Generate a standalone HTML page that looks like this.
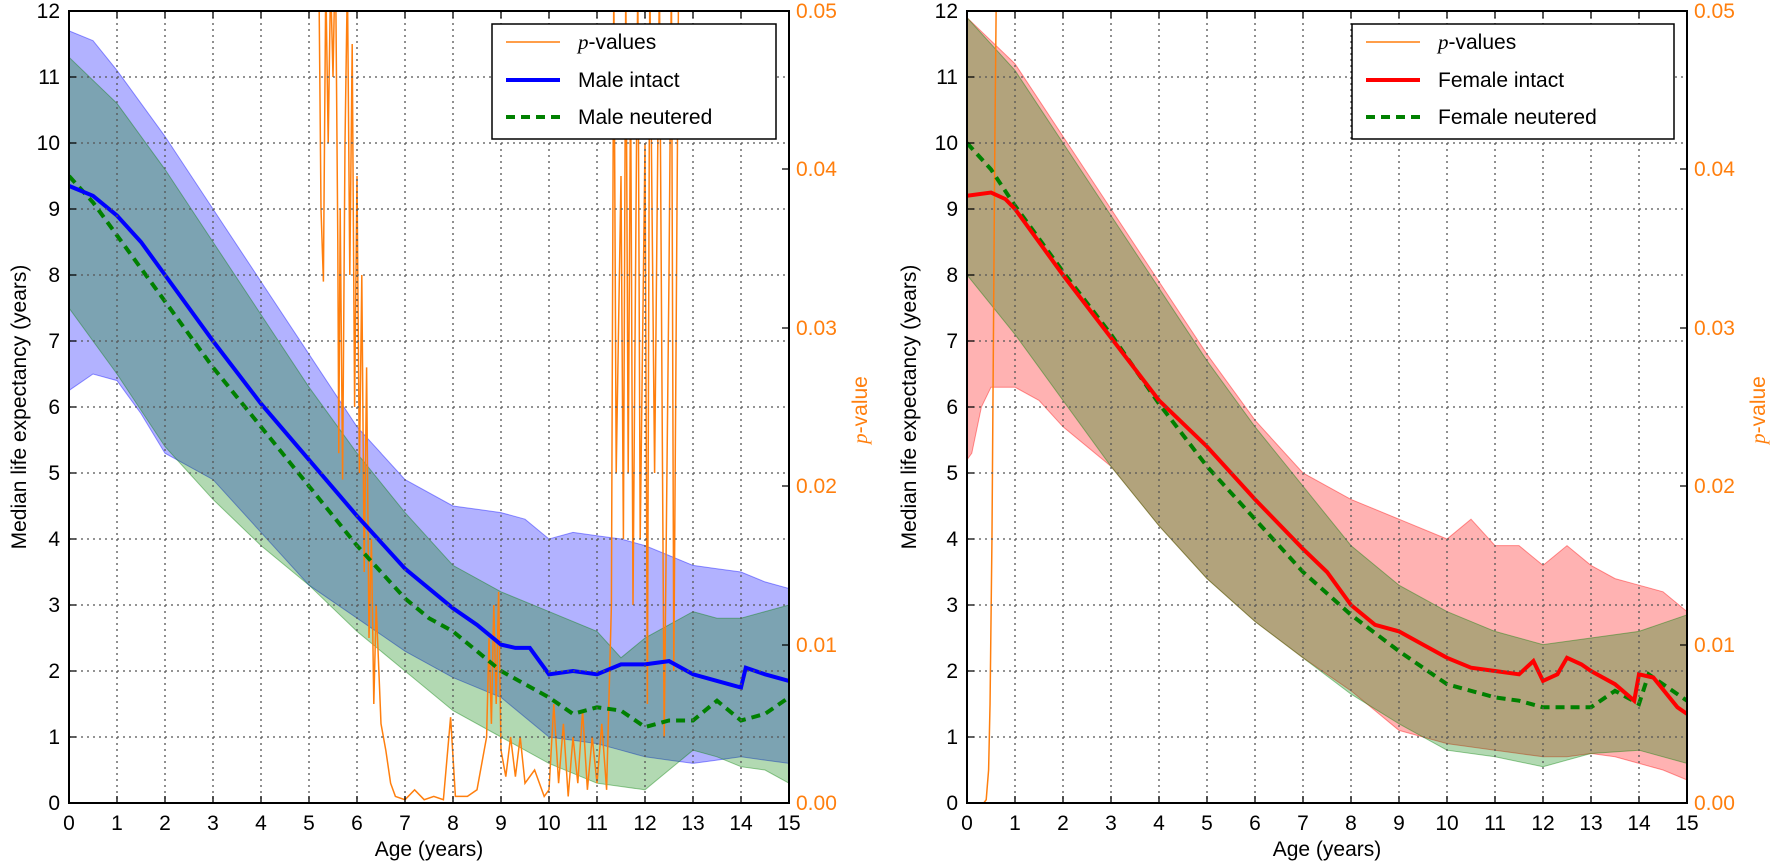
<!DOCTYPE html>
<html><head><meta charset="utf-8"><style>
body{margin:0;background:#fff;}
svg{display:block;font-family:"Liberation Sans","DejaVu Sans",sans-serif;}
.nss{vector-effect:non-scaling-stroke;}
</style></head><body>
<svg width="1770" height="867" viewBox="0 0 1770 867">
<defs>
<clipPath id="cl"><rect x="0" y="0" width="15" height="12"/></clipPath>
</defs>

<!-- ============ LEFT PLOT ============ -->
<g transform="translate(69,803) scale(48,-66)">
 <g clip-path="url(#cl)">
  <polygon class="nss" fill="blue" fill-opacity="0.3" stroke="blue" stroke-opacity="0.4" stroke-width="1" points="0,11.7 0.5,11.55 1,11.1 2,10.1 3,9 4,7.9 5,6.8 6,5.7 7,4.9 8,4.5 8.5,4.45 9,4.4 9.5,4.3 10,4.0 10.5,4.1 11,4.05 11.5,4.0 12,3.9 12.5,3.75 13,3.6 13.5,3.55 14,3.5 14.5,3.35 15,3.25 15,0.6 14.5,0.65 14,0.7 13.5,0.65 13,0.6 12.5,0.65 12,0.7 11.5,0.8 11,0.9 10.5,0.95 10,1.0 9,1.6 8,1.9 7,2.3 6,2.8 5,3.3 4,4.1 3,4.9 2,5.3 1.5,5.9 1,6.4 0.5,6.5 0,6.25"/>
  <polygon class="nss" fill="green" fill-opacity="0.3" stroke="green" stroke-opacity="0.4" stroke-width="1" points="0,11.3 1,10.6 2,9.6 3,8.5 4,7.4 5,6.3 6,5.3 7,4.4 8,3.6 9,3.2 10,2.9 11,2.6 11.5,2.2 12,2.5 12.5,2.7 13,2.9 13.5,2.8 14,2.8 14.5,2.9 15,3.0 15,0.3 14.5,0.5 14,0.55 13.5,0.7 13,0.8 12.5,0.5 12,0.2 11.5,0.25 11,0.3 10,0.6 9,1.0 8,1.4 7,2.0 6,2.6 5,3.3 4,3.9 3,4.6 2,5.4 1,6.5 0,7.5"/>
  <polyline class="nss" fill="none" stroke="#ff7f0e" stroke-width="1.5" points="5.2,13 5.25,9 5.3,7.9 5.35,12.5 5.4,10 5.45,12.5 5.5,11 5.55,13 5.6,8.5 5.62,5.3 5.65,9 5.7,4.9 5.75,10 5.8,12.5 5.85,8 5.9,11.5 5.95,6 6,9.5 6.05,5 6.1,8 6.15,3.5 6.2,6.6 6.25,2.5 6.3,4 6.35,1.5 6.4,3 6.5,1.2 6.6,0.8 6.7,0.3 6.8,0.1 7,0.05 7.2,0.2 7.4,0.05 7.6,0.1 7.8,0.05 7.95,1.3 8.05,0.1 8.3,0.1 8.5,0.2 8.7,1.0 8.75,2.5 8.8,1.2 8.85,3.0 8.9,1.5 8.95,3.2 9.0,0.8 9.1,0.4 9.2,1.0 9.3,0.4 9.4,1.0 9.5,0.3 9.7,0.5 9.9,0.1 10.0,0.2 10.1,1.5 10.2,0.3 10.3,1.2 10.4,0.1 10.5,1.0 10.6,0.3 10.7,1.4 10.8,0.2 10.9,1.0 11.0,0.3 11.1,1.2 11.2,0.2 11.3,3 11.35,12.5 11.4,5 11.5,9.5 11.55,4 11.6,12.5 11.65,5 11.7,11 11.75,3 11.85,12.5 11.9,4 12.0,10 12.05,1.5 12.1,12.5 12.2,5 12.3,12.5 12.4,1 12.5,8 12.55,12.5 12.6,2 12.7,12.5 12.8,13"/>
  <polyline class="nss" fill="none" stroke="green" stroke-width="4" stroke-dasharray="9,6" points="0,9.5 0.5,9.1 1,8.6 1.5,8.1 2,7.6 3,6.6 4,5.7 5,4.8 6,3.9 7,3.1 7.5,2.8 8,2.6 8.5,2.3 9,2.0 9.5,1.8 10,1.6 10.5,1.35 11,1.45 11.5,1.4 12,1.15 12.5,1.25 13,1.25 13.5,1.55 14,1.25 14.5,1.35 15,1.6"/>
  <polyline class="nss" fill="none" stroke="blue" stroke-width="4" points="0,9.35 0.5,9.2 1,8.9 1.5,8.5 2,8.0 3,7.0 4,6.05 5,5.2 6,4.35 7,3.55 8,2.95 8.5,2.7 9,2.4 9.3,2.35 9.6,2.35 10,1.95 10.5,2.0 11,1.95 11.5,2.1 12,2.1 12.5,2.15 13,1.95 13.5,1.85 14,1.75 14.1,2.05 14.5,1.95 15,1.85"/>
 </g>
</g>
<g stroke="#555" stroke-width="1.3" stroke-dasharray="2,4">
 <path d="M117,11V803M165,11V803M213,11V803M261,11V803M309,11V803M357,11V803M405,11V803M453,11V803M501,11V803M549,11V803M597,11V803M645,11V803M693,11V803M741,11V803"/>
 <path d="M69,737H789M69,671H789M69,605H789M69,539H789M69,473H789M69,407H789M69,341H789M69,275H789M69,209H789M69,143H789M69,77H789"/>
</g>
<rect x="69" y="11" width="720" height="792" fill="none" stroke="#000" stroke-width="2"/>
<g stroke="#000" stroke-width="1.3">
 <path d="M117,803v-7M165,803v-7M213,803v-7M261,803v-7M309,803v-7M357,803v-7M405,803v-7M453,803v-7M501,803v-7M549,803v-7M597,803v-7M645,803v-7M693,803v-7M741,803v-7"/>
 <path d="M117,11v7M165,11v7M213,11v7M261,11v7M309,11v7M357,11v7M405,11v7M453,11v7M501,11v7M549,11v7M597,11v7M645,11v7M693,11v7M741,11v7"/>
 <path d="M69,737h7M69,671h7M69,605h7M69,539h7M69,473h7M69,407h7M69,341h7M69,275h7M69,209h7M69,143h7M69,77h7"/>
 <path d="M789,645h-7M789,486h-7M789,328h-7M789,169h-7"/>
</g>
<g font-size="21" text-anchor="middle" fill="#000">
 <text x="69" y="830">0</text><text x="117" y="830">1</text><text x="165" y="830">2</text><text x="213" y="830">3</text><text x="261" y="830">4</text><text x="309" y="830">5</text><text x="357" y="830">6</text><text x="405" y="830">7</text><text x="453" y="830">8</text><text x="501" y="830">9</text><text x="549" y="830">10</text><text x="597" y="830">11</text><text x="645" y="830">12</text><text x="693" y="830">13</text><text x="741" y="830">14</text><text x="789" y="830">15</text>
 <text x="429" y="856">Age (years)</text>
</g>
<g font-size="21" text-anchor="end" fill="#000">
 <text x="60" y="810">0</text><text x="60" y="744">1</text><text x="60" y="678">2</text><text x="60" y="612">3</text><text x="60" y="546">4</text><text x="60" y="480">5</text><text x="60" y="414">6</text><text x="60" y="348">7</text><text x="60" y="282">8</text><text x="60" y="216">9</text><text x="60" y="150">10</text><text x="60" y="84">11</text><text x="60" y="18">12</text>
</g>
<text transform="translate(26,407) rotate(-90)" font-size="21" text-anchor="middle">Median life expectancy (years)</text>
<g font-size="21" fill="#ff7f0e">
 <text x="796" y="810">0.00</text><text x="796" y="652">0.01</text><text x="796" y="493">0.02</text><text x="796" y="335">0.03</text><text x="796" y="176">0.04</text><text x="796" y="18">0.05</text>
</g>
<text transform="translate(867,410) rotate(-90)" font-size="21" fill="#ff7f0e" text-anchor="middle"><tspan font-family="Liberation Serif" font-style="italic">p</tspan>-value</text>
<!-- legend left -->
<rect x="492" y="24" width="284" height="115" fill="#fff" stroke="#000" stroke-width="1.5"/>
<line x1="506" y1="42" x2="560" y2="42" stroke="#ff7f0e" stroke-width="1.5"/>
<line x1="506" y1="80" x2="560" y2="80" stroke="blue" stroke-width="4"/>
<line x1="506" y1="117" x2="560" y2="117" stroke="green" stroke-width="4" stroke-dasharray="9,6"/>
<g font-size="21"><text x="578" y="49"><tspan font-family="Liberation Serif" font-style="italic">p</tspan>-values</text><text x="578" y="87">Male intact</text><text x="578" y="124">Male neutered</text></g>

<!-- ============ RIGHT PLOT ============ -->
<g transform="translate(967,803) scale(48,-66)">
 <g clip-path="url(#cl)">
  <polygon class="nss" fill="red" fill-opacity="0.3" stroke="red" stroke-opacity="0.4" stroke-width="1" points="0,11.9 1,11.2 2,10.1 3,9.0 4,7.9 5,6.8 6,5.8 7,5.0 8,4.6 9,4.3 10,4.0 10.5,4.3 11,3.9 11.5,3.9 12,3.6 12.5,3.9 13,3.6 13.5,3.4 14,3.3 14.5,3.2 15,2.9 15,0.35 14.5,0.5 14,0.6 13.5,0.7 13,0.75 12.5,0.7 12,0.7 11.5,0.75 11,0.8 10,0.9 9,1.1 8,1.7 7,2.2 6,2.75 5,3.4 4,4.2 3,5.1 2,5.7 1.5,6.1 1,6.3 0.5,6.3 0.3,6.0 0.1,5.3 0,5.2"/>
  <polygon class="nss" fill="green" fill-opacity="0.3" stroke="green" stroke-opacity="0.4" stroke-width="1" points="0,11.9 1,11.1 2,10.0 3,8.9 4,7.8 5,6.7 6,5.7 7,4.8 8,3.9 9,3.3 10,2.9 11,2.6 12,2.4 13,2.5 14,2.6 15,2.85 15,0.6 14,0.8 13,0.75 12,0.55 11,0.7 10,0.8 9,1.2 8,1.65 7,2.2 6,2.75 5,3.4 4,4.2 3,5.1 2,6.1 1,7.1 0,8.0"/>
  <polyline class="nss" fill="none" stroke="#ff7f0e" stroke-width="1.5" points="0,0 0.35,0 0.4,0.05 0.45,0.5 0.48,1.5 0.52,4 0.55,7 0.58,10 0.62,13"/>
  <polyline class="nss" fill="none" stroke="green" stroke-width="4" stroke-dasharray="9,6" points="0,10.0 0.5,9.6 1,9.05 2,8.05 3,7.1 4,6.05 5,5.1 6,4.3 7,3.5 8,2.85 9,2.3 10,1.8 11,1.6 11.5,1.55 12,1.45 12.5,1.45 13,1.45 13.5,1.7 14,1.5 14.2,1.95 14.6,1.75 15,1.55"/>
  <polyline class="nss" fill="none" stroke="red" stroke-width="4" points="0,9.2 0.5,9.25 0.8,9.15 1,9.0 2,8.0 3,7.05 4,6.1 5,5.4 6,4.6 7,3.85 7.5,3.5 8,3.0 8.5,2.7 9,2.6 9.5,2.4 10,2.2 10.5,2.05 11,2.0 11.5,1.95 11.8,2.15 12,1.85 12.3,1.95 12.5,2.2 12.8,2.1 13,2.0 13.5,1.8 13.9,1.55 14,1.95 14.3,1.9 14.8,1.45 15,1.35"/>
 </g>
</g>
<g stroke="#555" stroke-width="1.3" stroke-dasharray="2,4">
 <path d="M1015,11V803M1063,11V803M1111,11V803M1159,11V803M1207,11V803M1255,11V803M1303,11V803M1351,11V803M1399,11V803M1447,11V803M1495,11V803M1543,11V803M1591,11V803M1639,11V803"/>
 <path d="M967,737H1687M967,671H1687M967,605H1687M967,539H1687M967,473H1687M967,407H1687M967,341H1687M967,275H1687M967,209H1687M967,143H1687M967,77H1687"/>
</g>
<rect x="967" y="11" width="720" height="792" fill="none" stroke="#000" stroke-width="2"/>
<g stroke="#000" stroke-width="1.3">
 <path d="M1015,803v-7M1063,803v-7M1111,803v-7M1159,803v-7M1207,803v-7M1255,803v-7M1303,803v-7M1351,803v-7M1399,803v-7M1447,803v-7M1495,803v-7M1543,803v-7M1591,803v-7M1639,803v-7"/>
 <path d="M1015,11v7M1063,11v7M1111,11v7M1159,11v7M1207,11v7M1255,11v7M1303,11v7M1351,11v7M1399,11v7M1447,11v7M1495,11v7M1543,11v7M1591,11v7M1639,11v7"/>
 <path d="M967,737h7M967,671h7M967,605h7M967,539h7M967,473h7M967,407h7M967,341h7M967,275h7M967,209h7M967,143h7M967,77h7"/>
 <path d="M1687,645h-7M1687,486h-7M1687,328h-7M1687,169h-7"/>
</g>
<g font-size="21" text-anchor="middle" fill="#000">
 <text x="967" y="830">0</text><text x="1015" y="830">1</text><text x="1063" y="830">2</text><text x="1111" y="830">3</text><text x="1159" y="830">4</text><text x="1207" y="830">5</text><text x="1255" y="830">6</text><text x="1303" y="830">7</text><text x="1351" y="830">8</text><text x="1399" y="830">9</text><text x="1447" y="830">10</text><text x="1495" y="830">11</text><text x="1543" y="830">12</text><text x="1591" y="830">13</text><text x="1639" y="830">14</text><text x="1687" y="830">15</text>
 <text x="1327" y="856">Age (years)</text>
</g>
<g font-size="21" text-anchor="end" fill="#000">
 <text x="958" y="810">0</text><text x="958" y="744">1</text><text x="958" y="678">2</text><text x="958" y="612">3</text><text x="958" y="546">4</text><text x="958" y="480">5</text><text x="958" y="414">6</text><text x="958" y="348">7</text><text x="958" y="282">8</text><text x="958" y="216">9</text><text x="958" y="150">10</text><text x="958" y="84">11</text><text x="958" y="18">12</text>
</g>
<text transform="translate(916,407) rotate(-90)" font-size="21" text-anchor="middle">Median life expectancy (years)</text>
<g font-size="21" fill="#ff7f0e">
 <text x="1694" y="810">0.00</text><text x="1694" y="652">0.01</text><text x="1694" y="493">0.02</text><text x="1694" y="335">0.03</text><text x="1694" y="176">0.04</text><text x="1694" y="18">0.05</text>
</g>
<text transform="translate(1765,410) rotate(-90)" font-size="21" fill="#ff7f0e" text-anchor="middle"><tspan font-family="Liberation Serif" font-style="italic">p</tspan>-value</text>
<!-- legend right -->
<rect x="1352" y="24" width="322" height="115" fill="#fff" stroke="#000" stroke-width="1.5"/>
<line x1="1366" y1="42" x2="1420" y2="42" stroke="#ff7f0e" stroke-width="1.5"/>
<line x1="1366" y1="80" x2="1420" y2="80" stroke="red" stroke-width="4"/>
<line x1="1366" y1="117" x2="1420" y2="117" stroke="green" stroke-width="4" stroke-dasharray="9,6"/>
<g font-size="21"><text x="1438" y="49"><tspan font-family="Liberation Serif" font-style="italic">p</tspan>-values</text><text x="1438" y="87">Female intact</text><text x="1438" y="124">Female neutered</text></g>
</svg>
</body></html>
